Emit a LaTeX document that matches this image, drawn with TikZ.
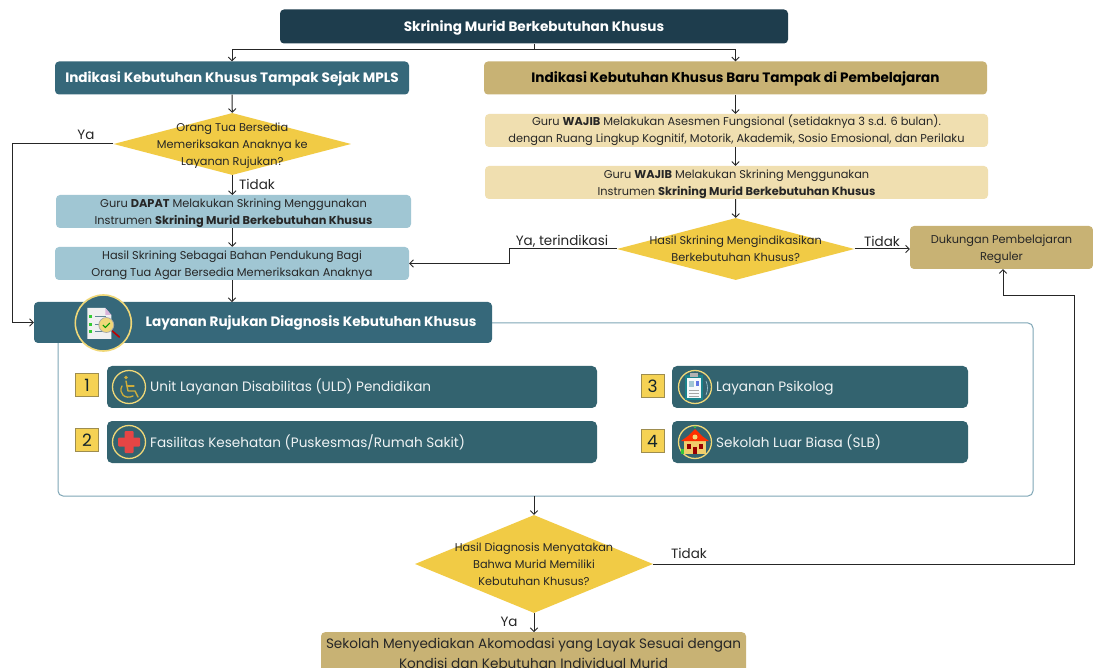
\documentclass[tikz,border=0pt]{standalone}
\usepackage{fontspec}
\setmainfont{Poppins}
\usetikzlibrary{arrows.meta,shapes.geometric}
\definecolor{darkbar}{HTML}{1E3D4D}
\definecolor{teal}{HTML}{36687A}
\definecolor{tealb}{HTML}{33636F}
\definecolor{tan}{HTML}{C8B274}
\definecolor{ltan}{HTML}{F0DFB0}
\definecolor{lblue}{HTML}{A0C6D3}
\definecolor{gold}{HTML}{F1CB45}
\definecolor{ring}{HTML}{F0D878}
\definecolor{frameblue}{HTML}{7FA6B6}
\definecolor{ink}{HTML}{262626}
\definecolor{numbox}{HTML}{F5D254}
\newcommand\nudgeline{\rule{0pt}{12.5pt}}
\tikzset{
 x=1pt,y=-1pt,
 basebox/.style={rectangle,rounded corners=4pt,inner sep=0pt,align=center,text=ink,font=\fontsize{11.35}{17}\selectfont},
 headbar/.style={basebox,fill=teal,text=white,text height=12pt,text depth=2pt,font=\fontsize{13.6}{17}\bfseries\selectfont},
 decision/.style={diamond,fill=gold,inner sep=0pt},
 dectext/.style={align=center,text=ink,inner sep=0pt,font=\fontsize{11.3}{17}\selectfont},
 lab/.style={text=ink,inner sep=0pt,font=\fontsize{13.5}{15}\selectfont},
 conn/.style={draw=ink,line width=1pt},
 arr/.style={conn,-{Straight Barb[length=3.6pt,width=7.5pt,line width=0.9pt]}},
 itembar/.style={basebox,rounded corners=5pt,fill=tealb},
 itemtext/.style={anchor=west,inner sep=0pt,text=white!92!teal,font=\fontsize{13.6}{15}\selectfont},
 numsq/.style={rectangle,fill=numbox,draw=black!30!numbox!70!gray,line width=0.6pt,inner sep=0pt,minimum width=23pt,minimum height=23pt,text=black!65!teal,font=\fontsize{17}{18}\selectfont},
 iconring/.style={circle,fill=tealb,draw=ring,line width=1.3pt,inner sep=0pt,minimum size=33pt},
}
\begin{document}
\begin{tikzpicture}
\clip (0,0) rectangle (1093,668);
\fill[white] (0,0) rectangle (1093,668);

% boxes
\node[headbar,fill=darkbar,minimum width=508pt,minimum height=34pt] (title) at (534,26.5) {Skrining Murid Berkebutuhan Khusus};
\node[headbar,minimum width=354pt,minimum height=33pt] (lh) at (232,78) {Indikasi Kebutuhan Khusus Tampak Sejak MPLS};
\node[headbar,fill=tan,text=black,minimum width=503pt,minimum height=33pt] (rh) at (735.5,78) {Indikasi Kebutuhan Khusus Baru Tampak di Pembelajaran};
\node[basebox,fill=ltan,minimum width=503pt,minimum height=33pt] (ra) at (736.5,130.5) {\rule{0pt}{10.5pt}Guru \textbf{WAJIB} Melakukan Asesmen Fungsional (setidaknya 3 s.d. 6 bulan).\\dengan Ruang Lingkup Kognitif, Motorik, Akademik, Sosio Emosional, dan Perilaku};
\node[basebox,fill=ltan,minimum width=503pt,minimum height=33pt] (rb) at (736.5,182.5) {\nudgeline Guru \textbf{WAJIB} Melakukan Skrining Menggunakan\\Instrumen \textbf{Skrining Murid Berkebutuhan Khusus}};
\node[decision,minimum width=237.5pt,minimum height=62pt,shape aspect=3.83] (rd) at (735.7,249) {};
\node[dectext] (rdt) at (735.7,249) {Hasil Skrining Mengindikasikan\\Berkebutuhan Khusus?};
\node[basebox,fill=tan,minimum width=183pt,minimum height=43pt] (dk) at (1001.5,247.5) {\nudgeline Dukungan Pembelajaran\\Reguler};

\node[decision,minimum width=237.5pt,minimum height=62pt,shape aspect=3.83] (ld) at (232.3,144) {};
\node[dectext] (ldt) at (232.3,145.5) {Orang Tua Bersedia\\Memeriksakan Anaknya ke\\Layanan Rujukan?};
\node[basebox,fill=lblue,minimum width=355pt,minimum height=33pt] (la) at (233.5,211.5) {\nudgeline Guru \textbf{DAPAT} Melakukan Skrining Menggunakan\\Instrumen \textbf{Skrining Murid Berkebutuhan Khusus}};
\node[basebox,fill=lblue,minimum width=354pt,minimum height=33pt] (lb) at (232,263.5) {\nudgeline Hasil Skrining Sebagai Bahan Pendukung Bagi\\Orang Tua Agar Bersedia Memeriksakan Anaknya};

% frame
\draw[frameblue,line width=1pt,rounded corners=5pt] (480,323) -- (1033,323) -- (1033,496) -- (58,496) -- (58,335);
\node[headbar,minimum width=458pt,minimum height=41pt] (lay) at (263,322.5) {};
\node[text=white,inner sep=0pt,text height=12pt,text depth=2pt,font=\fontsize{13.6}{17}\bfseries\selectfont] (layt) at (311,322) {Layanan Rujukan Diagnosis Kebutuhan Khusus};
\node[circle,fill=teal,draw=ring,line width=1.6pt,inner sep=0pt,minimum size=56pt] (layc) at (103.3,323) {};
% document icon
\begin{scope}[shift={(103.3,323)}]
 \fill[black!6] (-16,-15) -- (2,-15) -- (8,-8) -- (8,16) -- (-16,16) -- cycle;
 \fill[violet!30] (2,-15) -- (8,-8) -- (2,-8) -- cycle;
 \foreach \yy in {-6,2,9}{
  \fill[green!60!gray] (-14,\yy-2) rectangle (-11,\yy+1);
  \draw[teal!80,line width=0.8pt] (-8,\yy-1) -- (3,\yy-1);
 }
 \draw[red!75!black,line width=1.6pt,line cap=round] (9,8) -- (16,14);
 \fill[ring,draw=gray!70,line width=0.7pt] (3,2) circle (7.5pt);
 \draw[green!60!black,line width=1pt] (-0.5,2) -- (2,4.5) -- (6.5,0);
\end{scope}

% items
\node[itembar,minimum width=490pt,minimum height=42pt] (i1) at (352,387) {};
\node[itembar,minimum width=490pt,minimum height=42pt] (i2) at (352,442) {};
\node[itembar,minimum width=296pt,minimum height=42pt] (i3) at (820,387) {};
\node[itembar,minimum width=296pt,minimum height=42pt] (i4) at (820,442) {};
\node[numsq] (n1) at (87,385) {1};
\node[numsq] (n2) at (87,440) {2};
\node[numsq] (n3) at (652.5,386) {3};
\node[numsq] (n4) at (652.5,441) {4};
\node[iconring] (c1) at (129,387) {};
\node[iconring] (c2) at (129,442) {};
\node[iconring] (c3) at (695,387) {};
\node[iconring] (c4) at (695,442) {};
\node[itemtext] (t1) at (150,387) {Unit Layanan Disabilitas (ULD) Pendidikan};
\node[itemtext] (t2) at (150,442) {Fasilitas Kesehatan (Puskesmas/Rumah Sakit)};
\node[itemtext] (t3) at (716,388.5) {Layanan Psikolog};
\node[itemtext] (t4) at (716,442) {Sekolah Luar Biasa (SLB)};
% wheelchair
\begin{scope}[shift={(129,387)}]
 \fill[gold!85!black] (-3,-9.5) circle (1.9pt);
 \draw[gold!85!black,line width=1.4pt,line cap=round,line join=round] (-3,-6) -- (-1,4) -- (6,4) -- (9,10);
 \draw[gold!85!black,line width=1.1pt,line cap=round] (-2,-1) -- (5,-1);
 \draw[gold!85!black,line width=1.3pt,line cap=round] (-7,-1) .. controls (-11,6) and (-4,13) .. (4,9);
\end{scope}
% cross
\begin{scope}[shift={(129,442)}]
 \fill[red!70!white!90!black,rounded corners=1pt] (-4.5,-11) rectangle (4.5,11);
 \fill[red!70!white!90!black,rounded corners=1pt] (-11,-4.5) rectangle (11,4.5);
\end{scope}
% clipboard
\begin{scope}[shift={(695,387)}]
 \fill[teal!60!cyan!80!black] (-10,-12) rectangle (8,13);
 \fill[white!90!lblue] (-8,-9) rectangle (6,11);
 \fill[gray!60] (-5,-14) rectangle (3,-10);
 \fill[lblue] (-6,-6) rectangle (-1,0);
 \fill[blue!40!lblue] (1,-6) rectangle (4,-1);
 \draw[gray!70,line width=0.7pt] (-6,3) -- (4,3) (-6,6) -- (4,6) (-6,9) -- (4,9);
 \draw[lblue,line width=0.6pt] (11,-6) .. controls (13,-1) and (13,3) .. (11,8);
\end{scope}
% school
\begin{scope}[shift={(695,442)}]
 \fill[green!55!gray] (-14,12) rectangle (-4,7);
 \fill[ring!90!orange] (-11,-2) rectangle (11,12);
 \fill[red!65!orange] (-14,-1) -- (-7,-6) -- (0,-13) -- (7,-6) -- (14,-1) -- cycle;
 \fill[green!45!gray] (0,-15) circle (1.3pt);
 \fill[ring] (0,-5) circle (2.5pt);
 \fill[red!60!black] (-2,5) rectangle (2,12);
 \foreach \xx in {-8,4}{\fill[red!60!black] (\xx,2) rectangle (\xx+4,7);}
\end{scope}

% bottom
\node[decision,minimum width=238pt,minimum height=98pt,shape aspect=2.43] (bd) at (534,564) {};
\node[dectext] (bdt) at (534,564) {Hasil Diagnosis Menyatakan\\Bahwa Murid Memiliki\\Kebutuhan Khusus?};
\node[basebox,fill=tan,minimum width=425pt,minimum height=50pt,anchor=north] (sk) at (533.5,632) {};
\node[align=center,text=ink,inner sep=0pt,font=\fontsize{13.6}{20}\selectfont,anchor=north] (skt) at (533.5,637.5) {Sekolah Menyediakan Akomodasi yang Layak Sesuai dengan\\Kondisi dan Kebutuhan Individual Murid};

% helper coordinates
\coordinate (split) at (534,50);
\coordinate (ljoin) at (12,144);
\coordinate (rjoinA) at (509,249);
\coordinate (rjoinB) at (509,263.5);
\coordinate (frameB) at (534,496);
\coordinate (frameL) at (232,302);
\coordinate (retA) at (1074,564);
\coordinate (retB) at (1074,296);
\coordinate (retC) at (1003,296);
\coordinate (laN) at (232.3,195);
\coordinate (laS) at (232.3,228);

% connectors
\draw[conn] (title.south) -- (split);
\draw[arr] (split) -| (lh.north);
\draw[arr] (split) -| (rh.north);
\draw[arr] (lh.south) -- (ld.north);
\draw[arr] (ld.south) -- (laN);
\draw[arr] (laS) -- (lb.north -| laS);
\draw[arr] (lb.south) -- (frameL);
\draw[arr] (ld.west) -- (ljoin) |- (lay.west);
\draw[arr] (rh.south) -- (ra.north -| rh.south);
\draw[arr] (ra.south -| rh.south) -- (rb.north -| rh.south);
\draw[arr] (rb.south -| rh.south) -- (rd.north);
\draw[arr] (rd.east) -- (rd.east -| dk.west);
\draw[arr] (rd.west) -- (rjoinA) -- (rjoinB) -- (lb.east);
\draw[arr] (frameB) -- (bd.north);
\draw[arr] (bd.south) -- (sk.north -| bd.south);
\draw[arr] (bd.east) -- (retA) -- (retB) -- (retC) -- (dk.south -| retC);

% labels
\node[lab] (ya1) at (86,134.5) {Ya};
\node[lab] (ti1) at (257,184) {Tidak};
\node[lab] (yt) at (562,241) {Ya, terindikasi};
\node[lab] (ti2) at (882,241) {Tidak};
\node[lab] (ti3) at (689,553.5) {Tidak};
\node[lab] (ya2) at (509,622) {Ya};
\end{tikzpicture}
\end{document}
